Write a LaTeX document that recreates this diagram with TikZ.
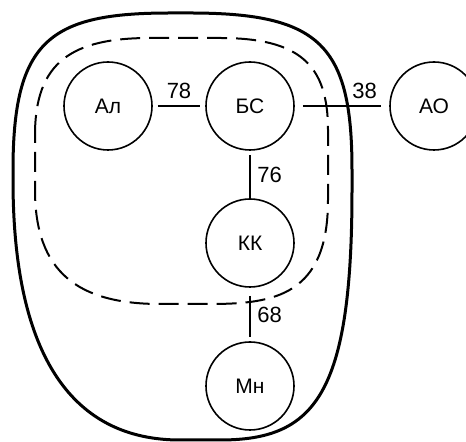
\documentclass[tikz,border=0pt]{standalone}
\usepackage{fontspec}
\setmainfont{Liberation Sans}
\usepackage{tikz}
\tikzset{
    city/.style={draw, circle, line width=0.8pt, inner sep=0pt, minimum size=44pt, font=\fontsize{10.5}{12}\selectfont},
    road/.style={line width=0.7pt},
    dist/.style={font=\fontsize{11}{13}\selectfont},
    zone/.style={line width=1.5pt},
    core/.style={line width=1pt, dash pattern=on 10pt off 4.5pt}
}
\begin{document}
\begin{tikzpicture}[x=0.5pt, y=-0.5pt]
        \useasboundingbox (0,0) rectangle (466,442);
        % outer region
        \draw [zone] (13,170) .. controls (13,40) and (50,13) .. (170,13)
          -- (190,13) .. controls (320,13) and (352,45) .. (352,170)
          -- (352,190) .. controls (352,395) and (315,440) .. (220,440)
          -- (180,440) .. controls (75,440) and (13,360) .. (13,180) -- cycle;
        % inner region
        \draw [core] (35,135) .. controls (35,62) and (72,38) .. (150,38)
          -- (220,38) .. controls (300,38) and (328,65) .. (328,130)
          -- (328,200) .. controls (328,295) and (275,304) .. (210,304)
          -- (160,304) .. controls (78,304) and (35,272) .. (35,190) -- cycle;
        \node [city] (al) at (108,106) {Ал};
        \node [city] (bs) at (250,106) {БС};
        \node [city] (ao) at (434,106) {АО};
        \node [city] (kk) at (250,243) {КК};
        \node [city] (mn) at (250,386) {Мн};
        \draw [road, shorten <=2.5pt, shorten >=2.5pt] (al) -- node [dist, above] {78} (bs);
        \draw [road, shorten <=4pt, shorten >=4pt] (bs) -- node [dist, above, pos=0.74] {38} (ao);
        \draw [road, shorten <=2pt] (bs) -- node [dist, right] {76} (kk);
        \draw [road, shorten <=4pt, shorten >=2pt] (kk) -- node [dist, right] {68} (mn);
      \end{tikzpicture}
\end{document}
